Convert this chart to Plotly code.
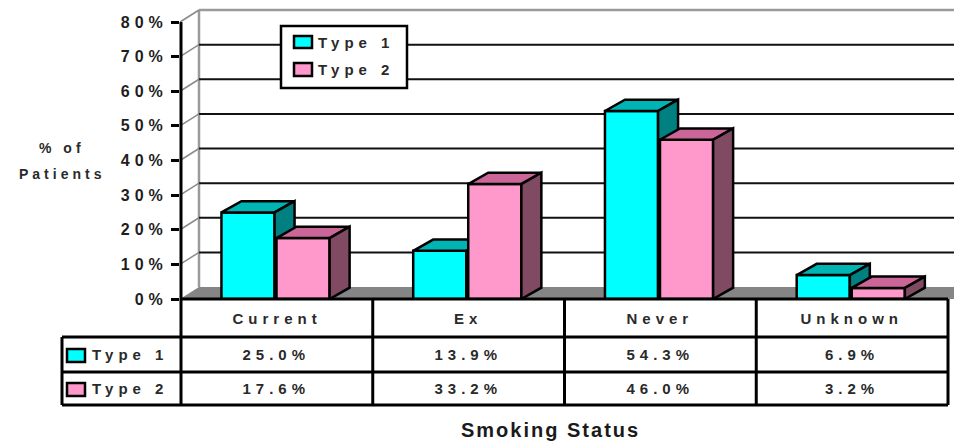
import plotly.graph_objects as go

# ---------------- data ----------------
categories = ["Current", "Ex", "Never", "Unknown"]
series_names = ["Type 1", "Type 2"]
type1_values = [25.0, 13.9, 54.3, 6.9]
type2_values = [17.6, 33.2, 46.0, 3.2]
y_tick_values = [0, 10, 20, 30, 40, 50, 60, 70, 80]
y_tick_labels = ["0%", "10%", "20%", "30%", "40%", "50%", "60%", "70%", "80%"]
x_title = "Smoking Status"
y_title_lines = ["% of", "Patients"]

# ---------------- layout geometry ----------------
W, H = 954, 443
ML, MR, MT, MB = 180, 0, 6, 144
PLOT_W = W - ML - MR
PLOT_H = H - MT - MB
PX_PER_CAT = 191.75
PX_PER_PCT = 3.4625
X_LEFT = -0.5 - 1 / PX_PER_CAT
X_RIGHT = X_LEFT + PLOT_W / PX_PER_CAT
Y_TOP = PLOT_H / PX_PER_PCT
ZERO_PX = H - MB

WALL_DX = 19 / PX_PER_CAT
WALL_DY = 12 / PX_PER_PCT
BAR_DX = 20 / PX_PER_CAT
BAR_DY = 11.3 / PX_PER_PCT
BAR_SPANS = [(-0.289, -0.012), (-0.002, 0.275)]

FACE_COLORS = [
    ("#00FFFF", "#00B4B4", "#008080"),
    ("#FF99CC", "#CC6699", "#804A63"),
]
FONT = "Liberation Sans, Arial, sans-serif"
TXT = "#2a2a2a"
SPACING = 5


def px(xp):
    return (xp - ML) / PLOT_W


def py(yp):
    return (ZERO_PX - yp) / PLOT_H


fig = go.Figure()

# ---------------- pseudo-3D bars (front, top, side faces) ----------------
for s, vals in enumerate([type1_values, type2_values]):
    a, b = BAR_SPANS[s]
    fx, fy, tx, ty, sx, sy = [], [], [], [], [], []
    for i, v in enumerate(vals):
        x0, x1 = i + a, i + b
        fx += [x0, x1, x1, x0, x0, None]
        fy += [0, 0, v, v, 0, None]
        tx += [x0, x1, x1 + BAR_DX, x0 + BAR_DX, x0, None]
        ty += [v, v, v + BAR_DY, v + BAR_DY, v, None]
        sx += [x1, x1 + BAR_DX, x1 + BAR_DX, x1, x1, None]
        sy += [0, BAR_DY, v + BAR_DY, v, 0, None]
    for xs, ys, col in [(fx, fy, FACE_COLORS[s][0]),
                        (tx, ty, FACE_COLORS[s][1]),
                        (sx, sy, FACE_COLORS[s][2])]:
        fig.add_trace(go.Scatter(
            x=xs, y=ys, mode="lines", fill="toself", fillcolor=col,
            line=dict(color="black", width=2.5), name=series_names[s],
            showlegend=False, hoverinfo="skip"))

shapes = []
# floor
shapes.append(dict(
    type="path", xref="x", yref="y", layer="below",
    path=f"M {X_LEFT},0 L {X_RIGHT},0 L {X_RIGHT},{WALL_DY} L {X_LEFT + WALL_DX},{WALL_DY} Z",
    fillcolor="#858585", line=dict(width=0)))
# back wall edges
shapes.append(dict(type="line", xref="x", yref="y", layer="below",
                   x0=X_LEFT + WALL_DX, x1=X_LEFT + WALL_DX, y0=WALL_DY, y1=80 + WALL_DY,
                   line=dict(color="#9a9a9a", width=2.5)))
shapes.append(dict(type="line", xref="x", yref="y", layer="below",
                   x0=X_LEFT + WALL_DX, x1=X_RIGHT, y0=80 + WALL_DY, y1=80 + WALL_DY,
                   line=dict(color="#9a9a9a", width=2.5)))
# gridlines + diagonals
for t in y_tick_values[1:]:
    if t < 80:
        shapes.append(dict(type="line", xref="x", yref="y", layer="below",
                           x0=X_LEFT + WALL_DX, x1=X_RIGHT, y0=t + WALL_DY, y1=t + WALL_DY,
                           line=dict(color="#111111", width=2)))
    shapes.append(dict(type="line", xref="x", yref="y", layer="below",
                       x0=X_LEFT, x1=X_LEFT + WALL_DX, y0=t, y1=t + WALL_DY,
                       line=dict(color="#8a8a8a", width=1.5)))

# ---------------- data table ----------------
col_px = [181 + PX_PER_CAT * k for k in range(len(categories) + 1)]
row_px = [ZERO_PX, 337, 372, 405]
LABEL_LEFT = 62
top80 = ZERO_PX - 80 * PX_PER_PCT


def pline(x0, y0, x1, y1, w=3):
    shapes.append(dict(type="line", xref="paper", yref="paper",
                       x0=px(x0), x1=px(x1), y0=py(y0), y1=py(y1),
                       line=dict(color="black", width=w)))


pline(181, top80, 181, row_px[3])
pline(181, row_px[0], col_px[-1], row_px[0])
for r in row_px[1:]:
    pline(LABEL_LEFT, r, col_px[-1], r)
pline(LABEL_LEFT, row_px[1], LABEL_LEFT, row_px[3])
for c in col_px[1:]:
    pline(c, row_px[0], c, row_px[3])


def prect(x0, y0, x1, y1, fill, w=2.5):
    shapes.append(dict(type="rect", xref="paper", yref="paper",
                       x0=px(x0), x1=px(x1), y0=py(y1), y1=py(y0),
                       fillcolor=fill, line=dict(color="black", width=w)))


# table row swatches
prect(67, 349, 85, 362, FACE_COLORS[0][0])
prect(67, 383, 85, 396, FACE_COLORS[1][0])
# legend box + swatches
prect(281, 26, 407, 88, "white")
prect(294, 36, 312, 48, FACE_COLORS[0][0])
prect(294, 63, 312, 76, FACE_COLORS[1][0])

annotations = []
f15 = dict(family=FONT, size=15, color=TXT, weight="bold")
f14 = dict(family=FONT, size=14, color=TXT, weight="bold")
row_mid = [(row_px[k] + row_px[k + 1]) / 2 for k in range(3)]


def ann(x, xref, y, text, font):
    annotations.append(dict(x=x, xref=xref, y=y, yref="paper", text=text,
                            showarrow=False, font=font, xanchor="center",
                            yanchor="middle"))


for i, c in enumerate(categories):
    ann(i, "x", py(row_mid[0]), c, f15)
    ann(i, "x", py(row_mid[1]), f"{type1_values[i]:.1f}%", f15)
    ann(i, "x", py(row_mid[2]), f"{type2_values[i]:.1f}%", f15)
for k, name in enumerate(series_names):
    ann(px(130), "paper", py(row_mid[k + 1]), name, f15)
for k, name in enumerate(series_names):
    ann(px(356), "paper", py([42, 69.5][k]), name, f15)
ytitle_index = len(annotations)
for k, line in enumerate(y_title_lines):
    ann(px(62), "paper", py([148, 174][k]), line, f14)
title_index = len(annotations)
ann(px(550), "paper", py(430), x_title,
    dict(family=FONT, size=20, color="#1a1a1a", weight="bold"))

fig.update_layout(
    width=W, height=H, margin=dict(l=ML, r=MR, t=MT, b=MB),
    paper_bgcolor="white", plot_bgcolor="white", showlegend=False,
    shapes=shapes, annotations=annotations,
    xaxis=dict(range=[X_LEFT, X_RIGHT], showgrid=False, zeroline=False,
               showticklabels=False, ticks="", showline=False, fixedrange=True),
    yaxis=dict(range=[0, Y_TOP], showgrid=False, zeroline=False, showline=False,
               tickvals=y_tick_values, ticktext=y_tick_labels,
               ticks="outside", ticklen=8, tickwidth=3, tickcolor="black",
               tickfont=dict(family=FONT, size=16, color="#1e1e1e", weight="bold"),
               fixedrange=True),
)

css = (f".ytick text{{letter-spacing:{SPACING}px;}}"
       f".annotation-text{{letter-spacing:{SPACING}px;}}"
       f".annotation[data-index=\"{ytitle_index}\"] .annotation-text,"
       f".annotation[data-index=\"{ytitle_index + 1}\"] .annotation-text{{letter-spacing:4px;}}"
       f".annotation[data-index=\"{title_index}\"] .annotation-text{{letter-spacing:2px;}}")
post = ("var s=document.createElement('style');s.textContent='" + css +
        "';document.head.appendChild(s);")

fig.write_html("out.html", post_script=post)
